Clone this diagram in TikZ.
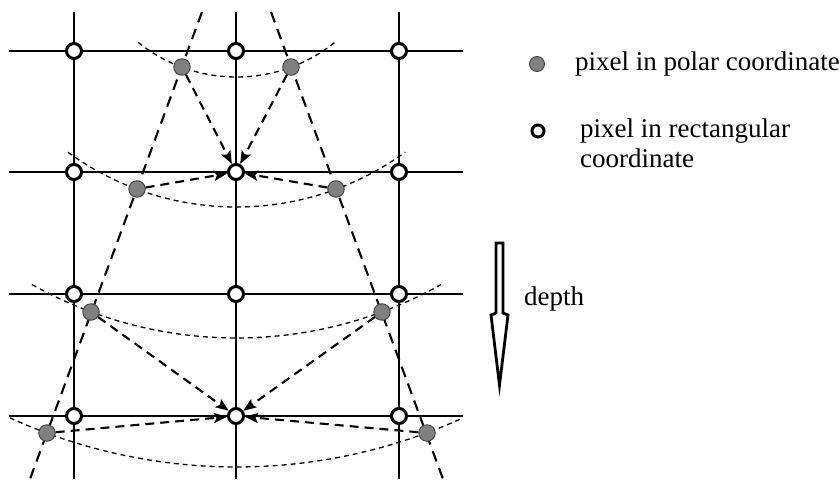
\documentclass[tikz,border=0pt]{standalone}
\usepackage{fontspec}
\setmainfont{Liberation Serif}
\usetikzlibrary{arrows.meta,backgrounds}
\begin{document}
\begin{tikzpicture}[x=1pt,y=1pt,
  grid line/.style={line width=1.8pt},
  ray/.style={line width=2.1pt, dash pattern=on 11pt off 7pt},
  ring/.style={line width=1.3pt, dash pattern=on 5pt off 4pt},
  feed/.style={line width=2.1pt, dash pattern=on 9pt off 6pt,
    -{Stealth[length=13pt,width=10pt,inset=2.5pt]}},
  rect pix/.style={circle, draw, line width=3pt, fill=white,
    minimum size=15pt, inner sep=0pt},
  polar pix/.style={circle, draw=black!75, line width=0.9pt, fill=black!50,
    minimum size=16.5pt, inner sep=0pt},
  label text/.style={font=\fontsize{27}{30}\selectfont, inner sep=0pt,
    anchor=base west}]
\useasboundingbox (0,0) rectangle (840,-479);

% rectangular grid pixels
\foreach \r/\y in {1/51,2/172,3/294,4/416}{
  \foreach \c/\x in {1/74,2/236,3/399}{
    \node[rect pix] (r\r\c) at (\x,-\y) {};
  }
}

% polar pixels on the two rays
\node[polar pix] (q1a) at (182,-67) {};
\node[polar pix] (q1b) at (291,-67) {};
\node[polar pix] (q2a) at (137,-189) {};
\node[polar pix] (q2b) at (336,-189) {};
\node[polar pix] (q3a) at (91,-312) {};
\node[polar pix] (q3b) at (382,-312) {};
\node[polar pix] (q4a) at (47,-433) {};
\node[polar pix] (q4b) at (427,-433) {};

% ends of the lines
\coordinate (apex) at (236.5,80);
\coordinate (la) at (202,-12);  \coordinate (lb) at (30,-479);
\coordinate (ra) at (271,-12);  \coordinate (rb) at (443,-479);
\foreach \c/\x in {1/74,2/236,3/399}{
  \coordinate (v\c a) at (\x,-12);
  \coordinate (v\c b) at (\x,-479);
}
\foreach \r/\y in {1/51,2/172,3/294,4/416}{
  \coordinate (h\r a) at (9,-\y);
  \coordinate (h\r b) at (463,-\y);
}

\begin{scope}[on background layer]
  \foreach \i in {1,2,3}{\draw[grid line] (v\i a) -- (v\i b);}
  \foreach \i in {1,2,3,4}{\draw[grid line] (h\i a) -- (h\i b);}
  \draw[ray] (la) -- (lb);
  \draw[ray] (ra) -- (rb);
  \foreach \r/\h in {157/38.8,287/36,418/29.3,547/24.5}{
    \draw[ring] (apex) ++(270-\h:\r) arc[start angle=270-\h, end angle=270+\h, radius=\r];
  }
\end{scope}

% interpolation arrows
\draw[feed] (q1a) -- (r22);
\draw[feed] (q1b) -- (r22);
\draw[feed] (q2a) -- (r22);
\draw[feed] (q2b) -- (r22);
\draw[feed] (q3a) -- (r42);
\draw[feed] (q3b) -- (r42);
\draw[feed] (q4a) -- (r42);
\draw[feed] (q4b) -- (r42);

% legend
\node[polar pix, minimum size=15pt] (kp) at (537,-64) {};
\node[label text] (kpt) at (575,-70) {pixel in polar coordinate};
\node[rect pix, minimum size=12pt, line width=3pt] (kr) at (538,-131) {};
\node[label text] (krt) at (580,-137) {pixel in rectangular};
\node[label text] (krt2) at (580,-167) {coordinate};

% depth arrow
\draw[line width=2.8pt, line join=miter, fill=white]
  (496,-243) -- (503,-243) -- (503,-313) -- (508,-315) -- (499.5,-385)
  -- (491,-315) -- (496,-313) -- cycle;
\node[label text] (dt) at (524,-305) {depth};
\end{tikzpicture}
\end{document}
